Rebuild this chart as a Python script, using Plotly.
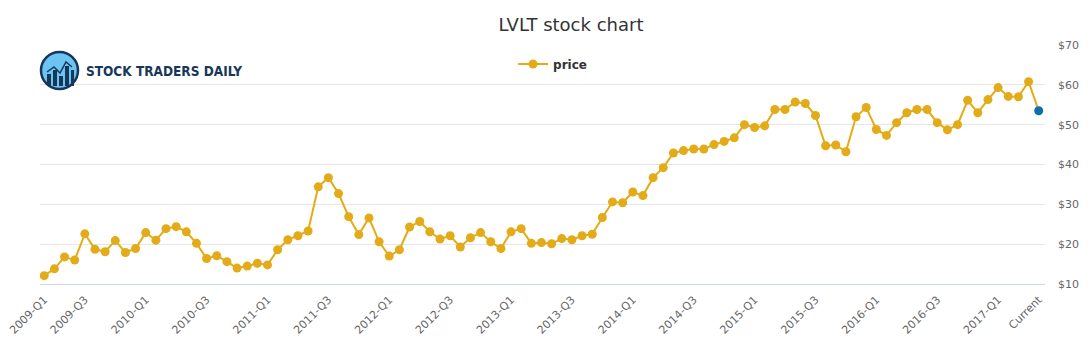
import plotly.graph_objects as go

# ---- data ----
price = [12.1, 13.8, 16.8, 16.0, 22.6, 18.7, 18.1, 20.9, 17.9, 18.9,
         22.9, 21.0, 23.9, 24.4, 23.1, 20.2, 16.4, 17.1, 15.6, 14.0,
         14.5, 15.2, 14.8, 18.6, 21.1, 22.1, 23.3, 34.4, 36.7, 32.7,
         26.9, 22.4, 26.6, 20.6, 17.0, 18.6, 24.3, 25.7, 23.1, 21.3,
         22.1, 19.3, 21.6, 22.9, 20.6, 18.9, 23.1, 23.9, 20.2, 20.4,
         20.1, 21.4, 21.1, 22.1, 22.5, 26.7, 30.6, 30.4, 33.1, 32.2,
         36.7, 39.2, 42.9, 43.5, 43.9, 43.9, 45.0, 45.8, 46.7, 50.0,
         49.3, 49.7, 53.8, 53.8, 55.7, 55.3, 52.3, 44.7, 44.9, 43.2,
         52.0, 54.3, 48.8, 47.3, 50.5, 53.0, 53.8, 53.8, 50.5, 48.7,
         50.0, 56.1, 53.0, 56.3, 59.3, 57.1, 57.0, 60.8, 53.5]
tick_index = [0, 4, 10, 16, 22, 28, 34, 40, 46, 52, 58, 64, 70, 76, 82, 88, 94, 98]
tick_labels = ["2009-Q1", "2009-Q3", "2010-Q1", "2010-Q3", "2011-Q1", "2011-Q3",
               "2012-Q1", "2012-Q3", "2013-Q1", "2013-Q3", "2014-Q1", "2014-Q3",
               "2015-Q1", "2015-Q3", "2016-Q1", "2016-Q3", "2017-Q1", "Current"]
y_ticks = [10, 20, 30, 40, 50, 60, 70]
y_labels = ["$10", "$20", "$30", "$40", "$50", "$60", "$70"]

GOLD = "#e3ab17"
BLUE = "#0f6fa8"
NAVY = "#17375a"

x = list(range(len(price)))
colors = [GOLD] * (len(price) - 1) + [BLUE]

fig = go.Figure()
fig.add_trace(go.Scatter(
    x=x, y=price, mode="lines+markers", name="price",
    line=dict(color=GOLD, width=2),
    marker=dict(color=colors, size=9),
    hoverinfo="skip",
))

W, H = 1091, 350
L, R, T, B = 40, 46, 45, 66
pw, ph = W - L - R, H - T - B


def px(xp):
    return (xp - L) / pw


def py(yp):
    return (H - B - yp) / ph


shapes = []
# logo circle
shapes.append(dict(type="circle", xref="paper", yref="paper",
                   x0=px(41), x1=px(78), y0=py(89), y1=py(52),
                   fillcolor="#6cc4f2", line=dict(color=NAVY, width=2.5)))
# logo bars
for bx0, bx1, top in [(47, 51, 74), (53, 57, 70), (59, 63, 76), (65, 69, 66), (71, 74, 70)]:
    shapes.append(dict(type="rect", xref="paper", yref="paper",
                       x0=px(bx0), x1=px(bx1), y0=py(86), y1=py(top),
                       fillcolor=NAVY, line=dict(width=0)))
# logo trend line
shapes.append(dict(type="path", xref="paper", yref="paper",
                   path="M %f,%f L %f,%f L %f,%f L %f,%f L %f,%f" % (
                       px(47), py(72), px(54), py(67), px(60), py(73), px(66), py(62), px(72), py(67)),
                   line=dict(color=NAVY, width=1.5)))

fig.update_layout(
    width=W, height=H,
    margin=dict(l=L, r=R, t=T, b=B, autoexpand=False),
    paper_bgcolor="white", plot_bgcolor="white",
    title=dict(text="LVLT stock chart", x=571 / W, xanchor="center", y=0.93, yanchor="middle",
               font=dict(family="DejaVu Sans", size=18, color="#333333")),
    showlegend=True,
    legend=dict(orientation="h", x=0.51, xanchor="center", y=py(64), yanchor="middle",
                font=dict(family="DejaVu Sans", size=12, color="#333333", weight="bold"),
                bgcolor="rgba(0,0,0,0)", itemwidth=30),
    xaxis=dict(range=[-0.42, 98.62], tickmode="array", tickvals=tick_index, ticktext=tick_labels,
               tickangle=-45, showgrid=False, zeroline=False, showline=True, automargin=False,
               linecolor="#ccd6eb", linewidth=1, ticks="outside", ticklen=4, tickcolor="rgba(0,0,0,0)",
               tickfont=dict(family="DejaVu Sans", size=11, color="#666666")),
    yaxis=dict(range=[10, 70], side="right", tickmode="array", tickvals=y_ticks, ticktext=y_labels,
               showgrid=True, gridcolor="#e6e6e6", gridwidth=1, zeroline=False, showline=False,
               ticks="", ticklabelstandoff=12, automargin=False,
               tickfont=dict(family="DejaVu Sans", size=11, color="#666666")),
    shapes=shapes,
    annotations=[dict(text="STOCK TRADERS DAILY", xref="paper", yref="paper",
                      x=px(84), y=py(71), xanchor="left", yanchor="middle", showarrow=False,
                      font=dict(family="DejaVu Sans Condensed", size=13.5, color=NAVY, weight="bold"))],
)

fig.write_html("out.html")
